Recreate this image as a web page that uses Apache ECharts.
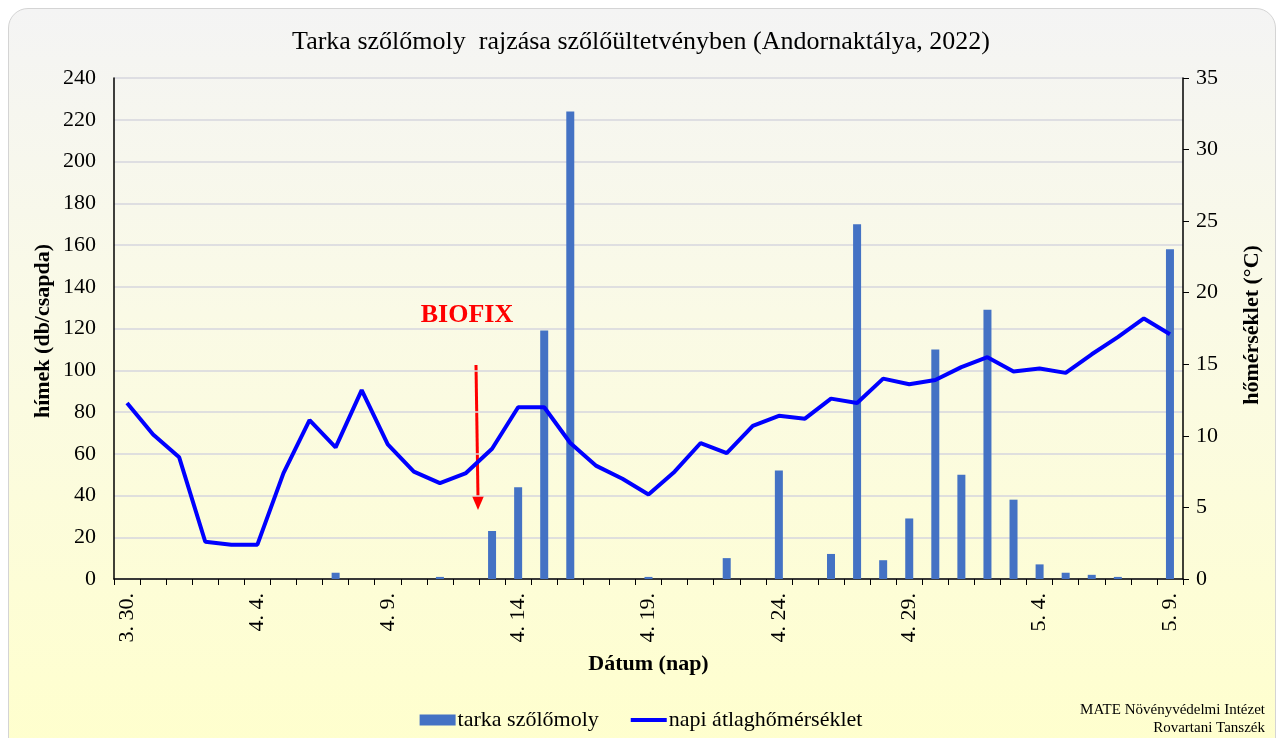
<!DOCTYPE html>
<html lang="hu">
<head>
    <meta charset="UTF-8">
    <title>Tarka szőlőmoly rajzása</title>
    <script src="https://cdn.jsdelivr.net/npm/echarts@6/dist/echarts.min.js"></script>
    <style>
        html, body { margin: 0; padding: 0; background: #ffffff; }
        #card {
            position: absolute; left: 8px; top: 8px; width: 1266px; height: 760px;
            border: 1px solid #d4d4d4; border-radius: 20px;
            background: linear-gradient(#f4f4f4 0%, #fafae6 40%, #ffffcc 100%);
        }
        #main { position: absolute; left: 0; top: 0; width: 1282px; height: 738px; }
    </style>
</head>
<body>
<div id="card"></div>
<div id="main"></div>

<script type="text/javascript">
    // dátumok 3.30 - 5.9
    var dates = ['3. 30.', '3. 31.',
        '4. 1.', '4. 2.', '4. 3.', '4. 4.', '4. 5.', '4. 6.', '4. 7.', '4. 8.', '4. 9.', '4. 10.',
        '4. 11.', '4. 12.', '4. 13.', '4. 14.', '4. 15.', '4. 16.', '4. 17.', '4. 18.', '4. 19.', '4. 20.',
        '4. 21.', '4. 22.', '4. 23.', '4. 24.', '4. 25.', '4. 26.', '4. 27.', '4. 28.', '4. 29.', '4. 30.',
        '5. 1.', '5. 2.', '5. 3.', '5. 4.', '5. 5.', '5. 6.', '5. 7.', '5. 8.', '5. 9.'];

    // hímek (db/csapda)
    var fogas = [0, 0, 0, 0, 0, 0, 0, 0, 3, 0, 0, 0, 1, 0, 23, 44, 119, 224, 0, 0, 1, 0, 0, 10, 0, 52,
        0, 12, 170, 9, 29, 110, 50, 129, 38, 7, 3, 2, 1, 0, 158];

    // napi átlaghőmérséklet (°C)
    var homerseklet = [12.3, 10.1, 8.5, 2.6, 2.4, 2.4, 7.4, 11.1, 9.2, 13.2, 9.4, 7.5, 6.7, 7.4, 9.1,
        12.0, 12.0, 9.5, 7.9, 7.0, 5.9, 7.5, 9.5, 8.8, 10.7, 11.4, 11.2, 12.6, 12.3, 14.0, 13.6, 13.9,
        14.8, 15.5, 14.5, 14.7, 14.4, 15.7, 16.9, 18.2, 17.1];

    var font = '"Liberation Serif", "Times New Roman", serif';

    var myChart = echarts.init(document.getElementById('main'), null, {renderer: 'canvas'});

    var option = {
        backgroundColor: 'transparent',
        textStyle: {fontFamily: font, color: '#000'},
        title: {
            text: 'Tarka szőlőmoly  rajzása szőlőültetvényben (Andornaktálya, 2022)',
            left: 'center',
            top: 24,
            textStyle: {fontFamily: font, fontSize: 26, fontWeight: 'normal', color: '#000'}
        },
        legend: {
            left: 'center',
            top: 704,
            itemGap: 32,
            itemWidth: 36,
            itemHeight: 11,
            textStyle: {fontFamily: font, fontSize: 22, color: '#000', padding: [0, 0, 0, -3]},
            data: [
                {name: 'tarka szőlőmoly', icon: 'rect'},
                {name: 'napi átlaghőmérséklet', icon: 'path://M0,0 L36,0 L36,4 L0,4 Z'}
            ]
        },
        grid: {left: 114, right: 99, top: 78, bottom: 159},
        xAxis: {
            type: 'category',
            data: dates,
            boundaryGap: true,
            name: 'Dátum (nap)',
            nameLocation: 'middle',
            nameGap: 74,
            nameTextStyle: {fontFamily: font, fontSize: 22, fontWeight: 'bold', color: '#000'},
            axisLine: {lineStyle: {color: '#000', width: 1.5}},
            axisTick: {show: true, interval: 0, length: 6, lineStyle: {color: '#000'}},
            axisLabel: {
                interval: 4, rotate: 90, margin: 14,
                fontFamily: font, fontSize: 22, color: '#000'
            },
            splitLine: {show: false}
        },
        yAxis: [
            {
                type: 'value',
                min: 0, max: 240, interval: 20,
                axisLine: {show: true, lineStyle: {color: '#000', width: 1.5}},
                axisTick: {show: false},
                axisLabel: {fontFamily: font, fontSize: 22, color: '#000', margin: 18},
                splitLine: {lineStyle: {color: '#d6d6de', width: 1.5}}
            },
            {
                type: 'value',
                min: 0, max: 35, interval: 5,
                position: 'right',
                axisLine: {show: true, lineStyle: {color: '#000', width: 1.5}},
                axisTick: {show: true, length: 6, lineStyle: {color: '#000'}},
                axisLabel: {fontFamily: font, fontSize: 22, color: '#000', margin: 13},
                splitLine: {show: false}
            }
        ],
        series: [
            {
                name: 'tarka szőlőmoly',
                type: 'bar',
                yAxisIndex: 0,
                barWidth: 8,
                itemStyle: {color: '#4472c4'},
                data: fogas
            },
            {
                name: 'napi átlaghőmérséklet',
                type: 'line',
                yAxisIndex: 1,
                symbol: 'none',
                itemStyle: {color: '#0000ff'},
                lineStyle: {color: '#0000ff', width: 4},
                data: homerseklet
            }
        ],
        graphic: [
            {
                type: 'text', rotation: Math.PI / 2,
                style: {text: 'hímek (db/csapda)', fontFamily: font, fontSize: 22, fontWeight: 'bold',
                    fill: '#000', textAlign: 'center', textVerticalAlign: 'middle'},
                x: 43, y: 331
            },
            {
                type: 'text', rotation: Math.PI / 2,
                style: {text: 'hőmérséklet (°C)', fontFamily: font, fontSize: 22, fontWeight: 'bold',
                    fill: '#000', textAlign: 'center', textVerticalAlign: 'middle'},
                x: 1252, y: 325
            },
            {
                type: 'text',
                style: {text: 'BIOFIX', fontFamily: font, fontSize: 26, fontWeight: 'bold',
                    fill: '#ff0000', textAlign: 'center', textVerticalAlign: 'middle'},
                x: 467, y: 315
            },
            {
                type: 'line',
                shape: {x1: 476, y1: 365, x2: 478, y2: 498},
                style: {stroke: '#ff0000', lineWidth: 3}
            },
            {
                type: 'polygon',
                shape: {points: [[472, 496], [484, 496], [478, 510]]},
                style: {fill: '#ff0000'}
            },
            {
                type: 'text',
                style: {text: 'MATE Növényvédelmi Intézet\nRovartani Tanszék', fontFamily: font, fontSize: 15,
                    fill: '#000', textAlign: 'right', textVerticalAlign: 'middle', lineHeight: 18},
                x: 1265, y: 719
            }
        ]
    };

    myChart.setOption(option);
</script>
</body>
</html>
